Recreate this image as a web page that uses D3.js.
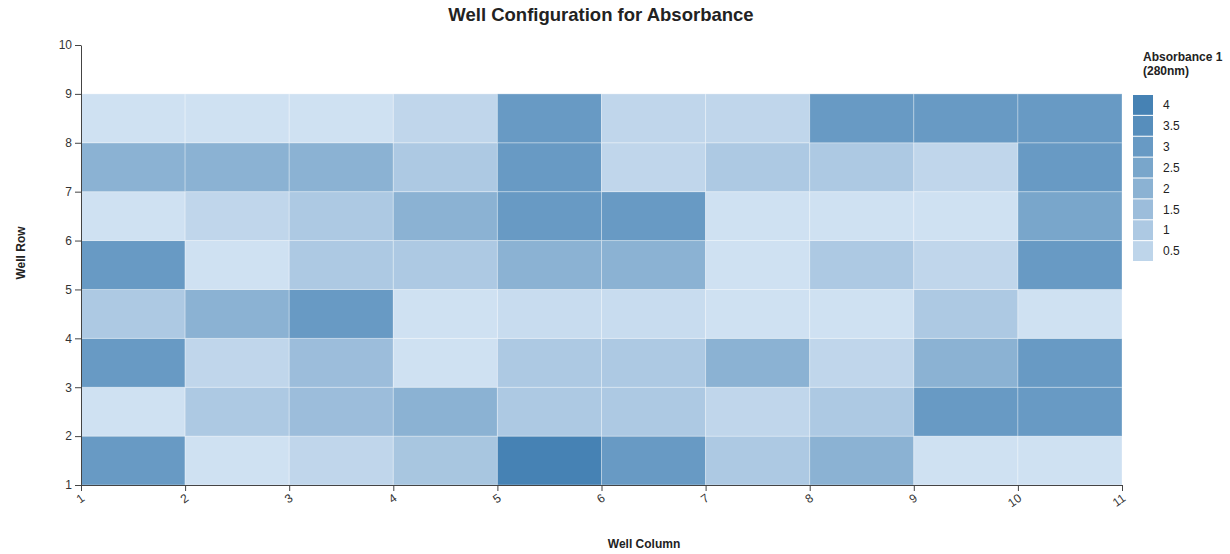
<!DOCTYPE html>
<html><head><meta charset="utf-8">
<script src="https://cdn.jsdelivr.net/npm/d3@7"></script>
<style>
body{margin:0;background:#fff;font-family:"Liberation Sans",Arial,sans-serif;}
</style></head>
<body><svg id="c" width="1230" height="554"></svg>
<script>
// Well columns (x start) and rows (y start)
const wellColumns = [1,2,3,4,5,6,7,8,9,10];
const wellRows = [1,2,3,4,5,6,7,8];
// absorbance values, one array per row (row 1 = bottom), columns 1..10
const row1 = [3.0, 0.0, 0.45, 1.15, 4.0, 3.0, 1.0, 2.0, 0.0, 0.0];
const row2 = [0.0, 1.0, 1.5, 2.0, 1.0, 1.0, 0.45, 1.0, 3.0, 3.0];
const row3 = [3.0, 0.45, 1.5, 0.0, 1.0, 1.0, 2.0, 0.45, 2.0, 3.0];
const row4 = [1.0, 2.0, 3.0, 0.0, 0.2, 0.2, 0.0, 0.0, 1.0, 0.0];
const row5 = [3.0, 0.0, 1.0, 1.0, 2.0, 2.0, 0.0, 1.0, 0.45, 3.0];
const row6 = [0.0, 0.45, 1.0, 2.0, 3.0, 3.0, 0.0, 0.0, 0.0, 2.5];
const row7 = [2.0, 2.0, 2.0, 1.0, 3.0, 0.45, 1.0, 1.0, 0.45, 3.0];
const row8 = [0.0, 0.0, 0.0, 0.45, 3.0, 0.45, 0.45, 3.0, 3.0, 3.0];
const rowValues = [row1,row2,row3,row4,row5,row6,row7,row8];
const xTicks = [1,2,3,4,5,6,7,8,9,10,11];
const yTicks = [1,2,3,4,5,6,7,8,9,10];
const legendValues = [4,3.5,3,2.5,2,1.5,1,0.5];

const cells = [];
wellRows.forEach((r,i)=>wellColumns.forEach((c,j)=>cells.push({col:c,row:r,v:rowValues[i][j]})));

const svg = d3.select("#c");
const m = {l:81, r:1122, t:45, b:485};
const x = d3.scaleLinear().domain([1,11]).range([m.l, m.r]);
const y = d3.scaleLinear().domain([1,10]).range([m.b, m.t]);
const color = d3.scaleLinear().domain([0,4]).range(["#cfe1f2","#4682b4"]).interpolate(d3.interpolateRgb).clamp(true);

svg.append("g").selectAll("rect").data(cells).join("rect")
  .attr("x", d=>x(d.col)).attr("y", d=>y(d.row+1))
  .attr("width", d=>x(d.col+1)-x(d.col)).attr("height", d=>y(d.row)-y(d.row+1))
  .attr("fill", d=>color(d.v))
  .attr("stroke","#ffffff").attr("stroke-opacity",0.3).attr("stroke-width",1);

const xa = svg.append("g").attr("transform",`translate(0,${m.b})`)
  .call(d3.axisBottom(x).tickValues(xTicks).tickFormat(d3.format("d")).tickSizeOuter(0));
xa.selectAll(".tick text").attr("text-anchor","end").attr("y",0).attr("dy",0)
  .attr("transform","translate(4,15) rotate(-35)");
const ya = svg.append("g").attr("transform",`translate(${m.l},0)`)
  .call(d3.axisLeft(y).tickValues(yTicks).tickFormat(d3.format("d")).tickSizeOuter(0));
svg.selectAll(".domain, .tick line").attr("stroke","#444");
svg.selectAll(".tick text").attr("font-size",12).attr("fill","#333").attr("font-family","Liberation Sans, Arial, sans-serif");

svg.append("text").attr("x",601).attr("y",21).attr("text-anchor","middle")
  .attr("font-size",18.5).attr("font-weight","bold").attr("fill","#222").text("Well Configuration for Absorbance");
svg.append("text").attr("x",644).attr("y",548).attr("text-anchor","middle")
  .attr("font-size",12).attr("font-weight","bold").attr("fill","#222").text("Well Column");
svg.append("text").attr("transform","translate(25,253) rotate(-90)").attr("text-anchor","middle")
  .attr("font-size",12).attr("font-weight","bold").attr("fill","#222").text("Well Row");

// legend
const lg = svg.append("g");
lg.append("text").attr("x",1143).attr("y",61).attr("font-size",12).attr("font-weight","bold").attr("fill","#222").text("Absorbance 1");
lg.append("text").attr("x",1143).attr("y",75).attr("font-size",12).attr("font-weight","bold").attr("fill","#222").text("(280nm)");
const ly = d3.scaleBand().domain(legendValues).range([95,261]).paddingInner(0.05);
lg.selectAll("rect").data(legendValues).join("rect")
  .attr("x",1133).attr("y",d=>ly(d)).attr("width",20).attr("height",ly.bandwidth()).attr("fill",d=>color(d));
lg.selectAll("text.l").data(legendValues).join("text").attr("class","l")
  .attr("x",1163).attr("y",d=>ly(d)+ly.bandwidth()/2).attr("dy","0.35em")
  .attr("font-size",12).attr("fill","#222").text(d=>d);
</script></body></html>
